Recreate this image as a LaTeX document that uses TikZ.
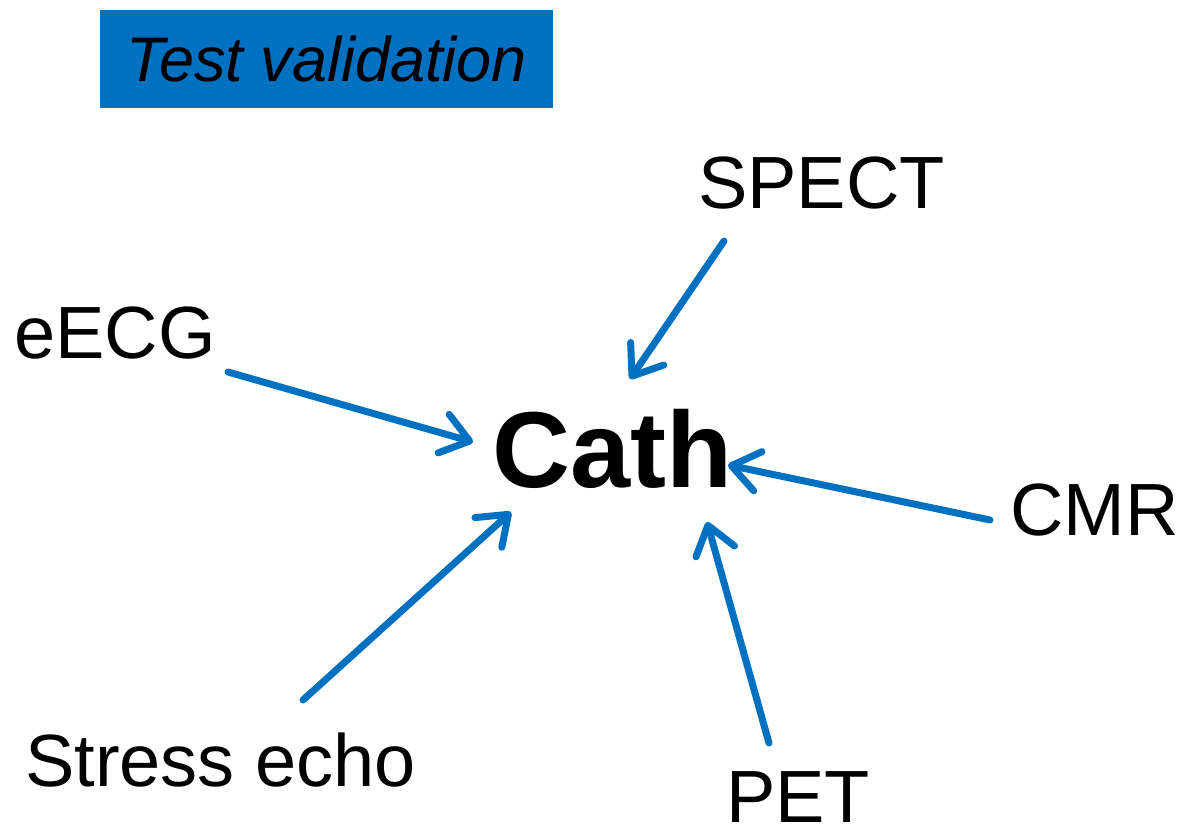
\documentclass[tikz,border=0pt]{standalone}
\usepackage{fontspec}
\setmainfont{Liberation Sans}
\usepackage{tikz}
\usetikzlibrary{arrows.meta,calc}

\definecolor{msblue}{HTML}{0070C0}

\tikzset{
    test/.style={anchor=base west, inner sep=0pt, font=\fontsize{74}{82}\selectfont},
    ref/.style={anchor=base west, inner sep=0pt, font=\fontsize{108}{120}\selectfont\bfseries},
    points/.style={msblue, line width=7pt, line cap=round,
        -{Straight Barb[length=27pt, width=40pt, line cap=round, line join=round]}}
}

\begin{document}
\begin{tikzpicture}[x=1pt, y=-1pt]
    \useasboundingbox (0,0) rectangle (1182,829);

    % heading box
    \node [fill=msblue, minimum width=453pt, minimum height=98pt, inner sep=0pt,
           text height=46pt, text depth=0pt, font=\fontsize{63}{70}\selectfont\itshape]
        (title) at (326.5,59) {Test validation};

    % reference standard in the middle
    \node [ref] (cath) at (492,487) {Cath};

    % tests around it
    \node [test] (spect) at (698,208) {SPECT};
    \node [test] (eecg) at (14,358) {eECG};
    \node [test] (cmr) at (1010,535) {CMR};
    \node [test] (echo) at (25,786) {Stress echo};
    \node [test] (pet) at (726,822) {PET};

    % each test checked against cath
    \draw [points] ($(eecg.base west)+(214,14)$) -- ($(cath.base west)+(-19,-45)$);
    \draw [points] ($(spect.base west)+(26,33)$) -- ($(cath.base west)+(138,-108)$);
    \draw [points] ($(echo.base west)+(278,-86)$) -- ($(cath.base west)+(19,25)$);
    \draw [points] ($(cmr.base west)+(-20,-15)$) -- ($(cath.base west)+(236,-22)$);
    \draw [points] ($(pet.base west)+(43,-79)$) -- ($(cath.base west)+(215,35)$);
\end{tikzpicture}
\end{document}
